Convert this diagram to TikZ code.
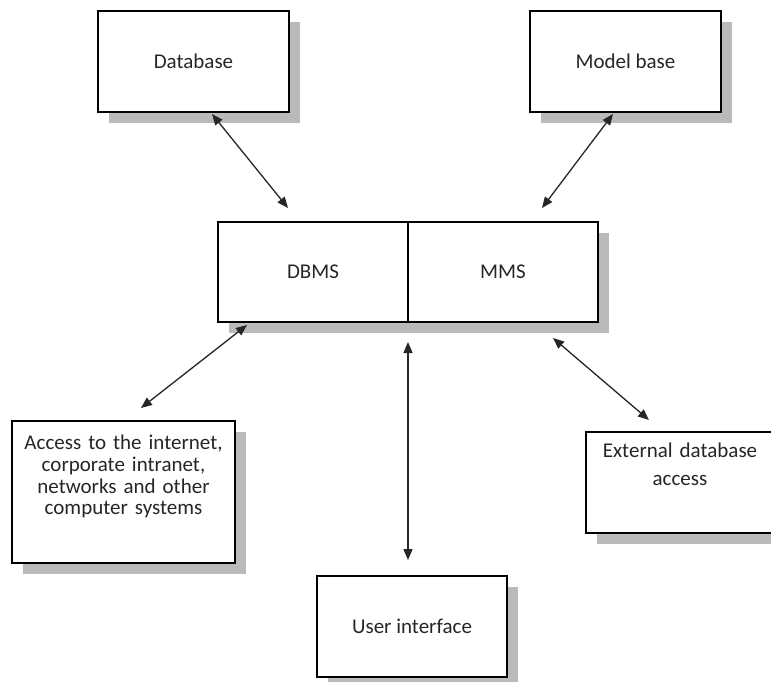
\documentclass[tikz,border=0pt]{standalone}
\usepackage{fontspec}
\setmainfont{Carlito}
\usetikzlibrary{shadows,arrows.meta}
\begin{document}
\begin{tikzpicture}[x=1pt,y=-1pt,
  box/.style={draw=black,line width=1.5pt,fill=white,inner sep=0pt,
    font=\fontsize{21}{22}\selectfont,text=black!85,
    drop shadow={shadow xshift=11pt,shadow yshift=-11pt,fill=black!27,opacity=1}},
  txt/.style={inner sep=0pt,font=\fontsize{21}{22}\selectfont,text=black!85,align=center},
  link/.style={line width=1.3pt,draw=black!85,
    {Triangle[length=11pt,width=9pt]}-{Triangle[length=11pt,width=9pt]}}]
\useasboundingbox (0,0) rectangle (771,682);
\fill[white] (0,0) rectangle (771,682);

\node[box,minimum width=191pt,minimum height=101pt] (db) at (193.5,61.5) {Database};
\node[box,minimum width=191pt,minimum height=101pt] (mb) at (625.5,61.5) {Model base};
\node[box,minimum width=190pt,minimum height=100pt] (dbms) at (313,272) {DBMS};
\node[box,minimum width=190pt,minimum height=100pt] (mms) at (503,272) {MMS};
\node[box,minimum width=223pt,minimum height=142pt] (acc) at (123.5,492) {};
\node[txt,anchor=north,text width=220pt,font=\fontsize{21}{21.7}\selectfont] (acct) at (123.5,435)
  {Access to the internet,\\corporate intranet,\\networks and other\\computer systems};
\node[box,minimum width=188pt,minimum height=101pt] (ext) at (680,482.5) {};
\node[txt,anchor=north,text width=186pt,font=\fontsize{21}{28}\selectfont] (extt) at (680,443)
  {External database\\access};
\node[box,minimum width=190pt,minimum height=101pt] (ui) at (412,626.5) {User interface};

\coordinate (a1s) at (212,114);
\coordinate (a1e) at (288,208);
\coordinate (a2s) at (613,114);
\coordinate (a2e) at (542,208);
\coordinate (a3s) at (247,325);
\coordinate (a3e) at (141,408);
\coordinate (a4s) at (553,338);
\coordinate (a4e) at (649,420);
\coordinate (a5s) at (408,342);
\coordinate (a5e) at (408,560);

\draw[link] (a1s) -- (a1e);
\draw[link] (a2s) -- (a2e);
\draw[link] (a3s) -- (a3e);
\draw[link] (a4s) -- (a4e);
\draw[link] (a5s) -- (a5e);
\end{tikzpicture}
\end{document}
